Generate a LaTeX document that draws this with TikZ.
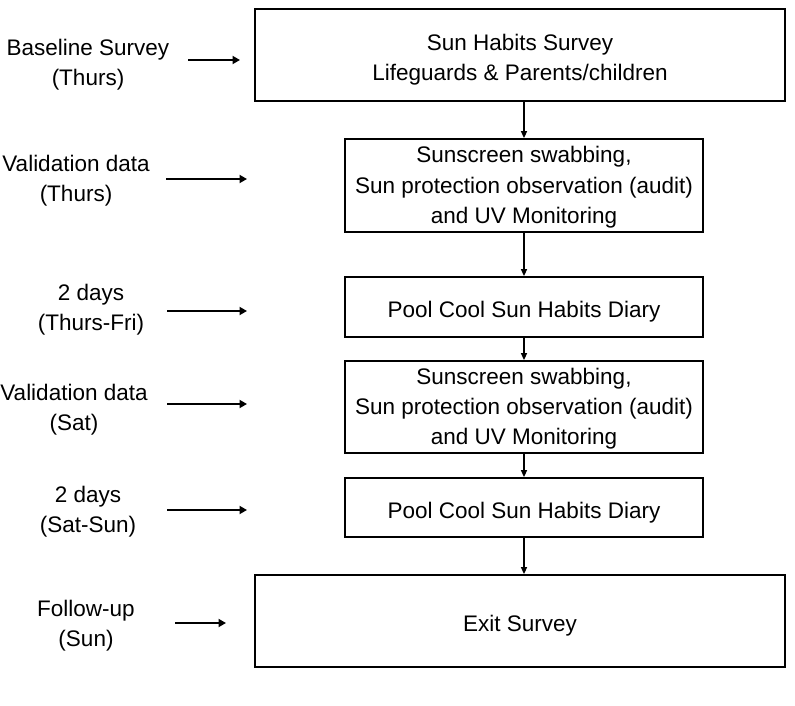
\documentclass[tikz,border=0pt]{standalone}
\usepackage{fontspec}
\setmainfont{Liberation Sans}
\usetikzlibrary{arrows.meta,calc}
\newcommand{\boxtxt}[2][-4.5pt]{\raisebox{#1}[\height][\depth]{\begin{tabular}{@{}c@{}}#2\end{tabular}}}
\begin{document}
\begin{tikzpicture}[x=1pt,y=-1pt,
  box/.style={draw,line width=1.8pt,inner sep=0pt,
    font=\fontsize{22.5}{30}\selectfont},
  lab/.style={align=center,inner sep=0pt,font=\fontsize{22.5}{30}\selectfont},
  side/.style={line width=2.5pt,-{Triangle[length=7.5pt,width=8pt]}},
  flow/.style={line width=1.5pt,-{Triangle[length=7pt,width=6pt]}}]
\useasboundingbox (0,0) rectangle (795,706);
\node[box,minimum width=530pt,minimum height=92pt] (b1) at (520,55)
  {\boxtxt{Sun Habits Survey\\Lifeguards \& Parents/children}};
\node[box,minimum width=358pt,minimum height=93pt] (b2) at (524,185.5)
  {\boxtxt[-1.5pt]{Sunscreen swabbing,\\Sun protection observation (audit)\\and UV Monitoring}};
\node[box,minimum width=358pt,minimum height=60pt] (b3) at (524,307)
  {\boxtxt{Pool Cool Sun Habits Diary}};
\node[box,minimum width=358pt,minimum height=92pt] (b4) at (524,407)
  {\boxtxt[-1.5pt]{Sunscreen swabbing,\\Sun protection observation (audit)\\and UV Monitoring}};
\node[box,minimum width=358pt,minimum height=59pt] (b5) at (524,507.5)
  {\boxtxt{Pool Cool Sun Habits Diary}};
\node[box,minimum width=530pt,minimum height=92pt] (b6) at (520,621)
  {\boxtxt{Exit Survey}};

\draw[flow] (b2.north |- b1.south) -- (b2.north);
\draw[flow] (b2.south) -- (b3.north);
\draw[flow] (b3.south) -- (b4.north);
\draw[flow] (b4.south) -- (b5.north);
\draw[flow] (b5.south) -- (b5.south |- b6.north);

\node[lab] (l1) at (88,65) {Baseline Survey\\(Thurs)};
\node[lab] (l2) at (76,181) {Validation data\\(Thurs)};
\node[lab] (l3) at (91,310) {2 days\\(Thurs-Fri)};
\node[lab] (l4) at (74,410) {Validation data\\(Sat)};
\node[lab] (l5) at (88,512) {2 days\\(Sat-Sun)};
\node[lab] (l6) at (86,626) {Follow-up\\(Sun)};

\coordinate (a1s) at (188,60);  \coordinate (a1e) at (240,60);
\coordinate (a2s) at (166,179); \coordinate (a2e) at (247,179);
\coordinate (a3s) at (167,311); \coordinate (a3e) at (247,311);
\coordinate (a4s) at (167,404); \coordinate (a4e) at (247,404);
\coordinate (a5s) at (167,510); \coordinate (a5e) at (247,510);
\coordinate (a6s) at (175,623); \coordinate (a6e) at (226,623);
\draw[side] (a1s) -- (a1e);
\draw[side] (a2s) -- (a2e);
\draw[side] (a3s) -- (a3e);
\draw[side] (a4s) -- (a4e);
\draw[side] (a5s) -- (a5e);
\draw[side] (a6s) -- (a6e);
\end{tikzpicture}
\end{document}
